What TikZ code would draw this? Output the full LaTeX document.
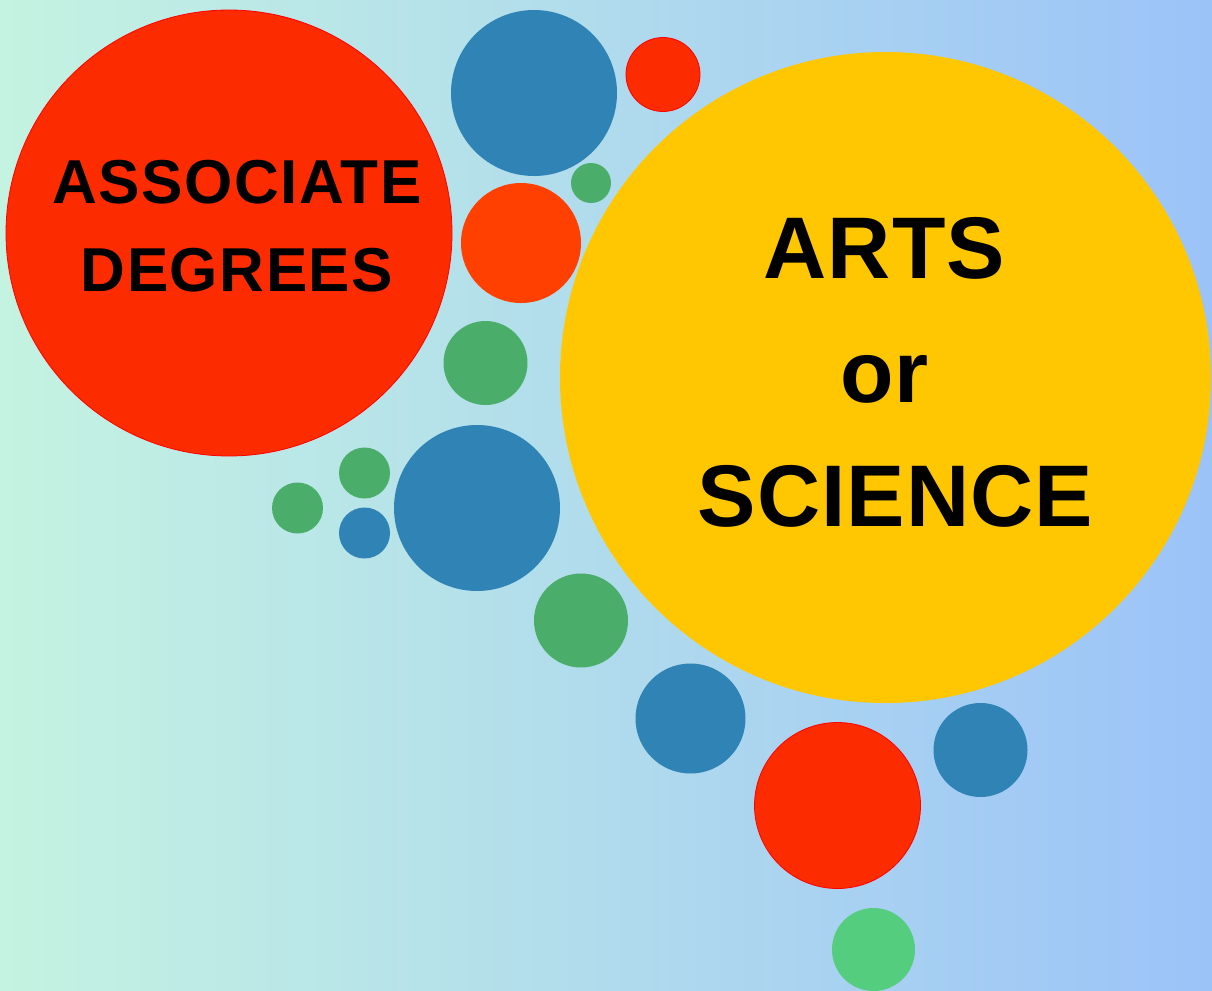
\documentclass[tikz,border=0pt]{standalone}
\usepackage{fontspec}
\setmainfont{Liberation Sans}
\usetikzlibrary{positioning,shapes}

\definecolor{bgleft}{RGB}{196,243,225}
\definecolor{bgright}{RGB}{156,195,248}
\definecolor{bubblered}{RGB}{252,44,0}
\definecolor{bubbleorange}{RGB}{255,64,0}
\definecolor{bubbleblue}{RGB}{48,131,181}
\definecolor{bubblegreen}{RGB}{74,174,106}
\definecolor{bubblelime}{RGB}{85,205,127}
\definecolor{bubbleyellow}{RGB}{255,199,2}

\begin{document}
\begin{tikzpicture}[
			      x=1pt, y=-1pt,
			      bubble/.style={circle, inner sep=0pt, minimum size=#1},
			      red bubble/.style={bubble=#1, fill=bubblered, draw=red, line width=0.8pt},
			      blue bubble/.style={bubble=#1, fill=bubbleblue},
			      green bubble/.style={bubble=#1, fill=bubblegreen},
			      bubbletext/.style={
					      align=center,
					      inner sep=0pt,
					      font=\bfseries
				      }
		      ]
		      % background
		      \shade[left color=bgleft, right color=bgright] (0,0) rectangle (1212,990);
		      \useasboundingbox (0,0) rectangle (1212,990);

		      % big bubbles
		      \node[red bubble=446pt] (assoc) at (229,233) {};
		      \node[bubble=651pt, fill=bubbleyellow] (arts) at (885.5,377.5) {};

		      % small bubbles
		      \node[blue bubble=166pt] (topblue) at (534,93) {};
		      \node[red bubble=74pt] (topred) at (663,74.5) {};
		      \node[green bubble=40pt] (topgreen) at (591,183) {};
		      \node[bubble=120pt, fill=bubbleorange] (orange) at (521,243) {};
		      \node[green bubble=84pt] (midgreen) at (485.5,363) {};
		      \node[blue bubble=166pt] (midblue) at (477,508) {};
		      \node[green bubble=51pt] (leftgreen) at (297.5,508) {};
		      \node[green bubble=51pt] (pairgreen) at (364.5,473) {};
		      \node[blue bubble=51pt] (pairblue) at (364.5,533) {};
		      \node[green bubble=94pt] (lowgreen) at (581,620.5) {};
		      \node[blue bubble=110pt] (lowblue) at (690.5,718.5) {};
		      \node[red bubble=166pt] (lowred) at (837.5,805.5) {};
		      \node[blue bubble=94pt] (rightblue) at (980.5,750) {};
		      \node[bubble=83pt, fill=bubblelime] (lime) at (873.5,949.5) {};

		      % texts
		      \node[bubbletext, font=\fontsize{62}{88}\selectfont\bfseries\addfontfeatures{LetterSpace=2.5}]
		      (assoctext) at ([xshift=8pt, yshift=7pt]assoc.center) {ASSOCIATE\\DEGREES};
		      \node[bubbletext, font=\fontsize{87.5}{124}\selectfont\bfseries\addfontfeatures{LetterSpace=1.3}]
		      (artstext) at ([xshift=-1pt, yshift=5.5pt]arts.center) {ARTS\\or\\\hspace*{22pt}SCIENCE};
	      \end{tikzpicture}
\end{document}
